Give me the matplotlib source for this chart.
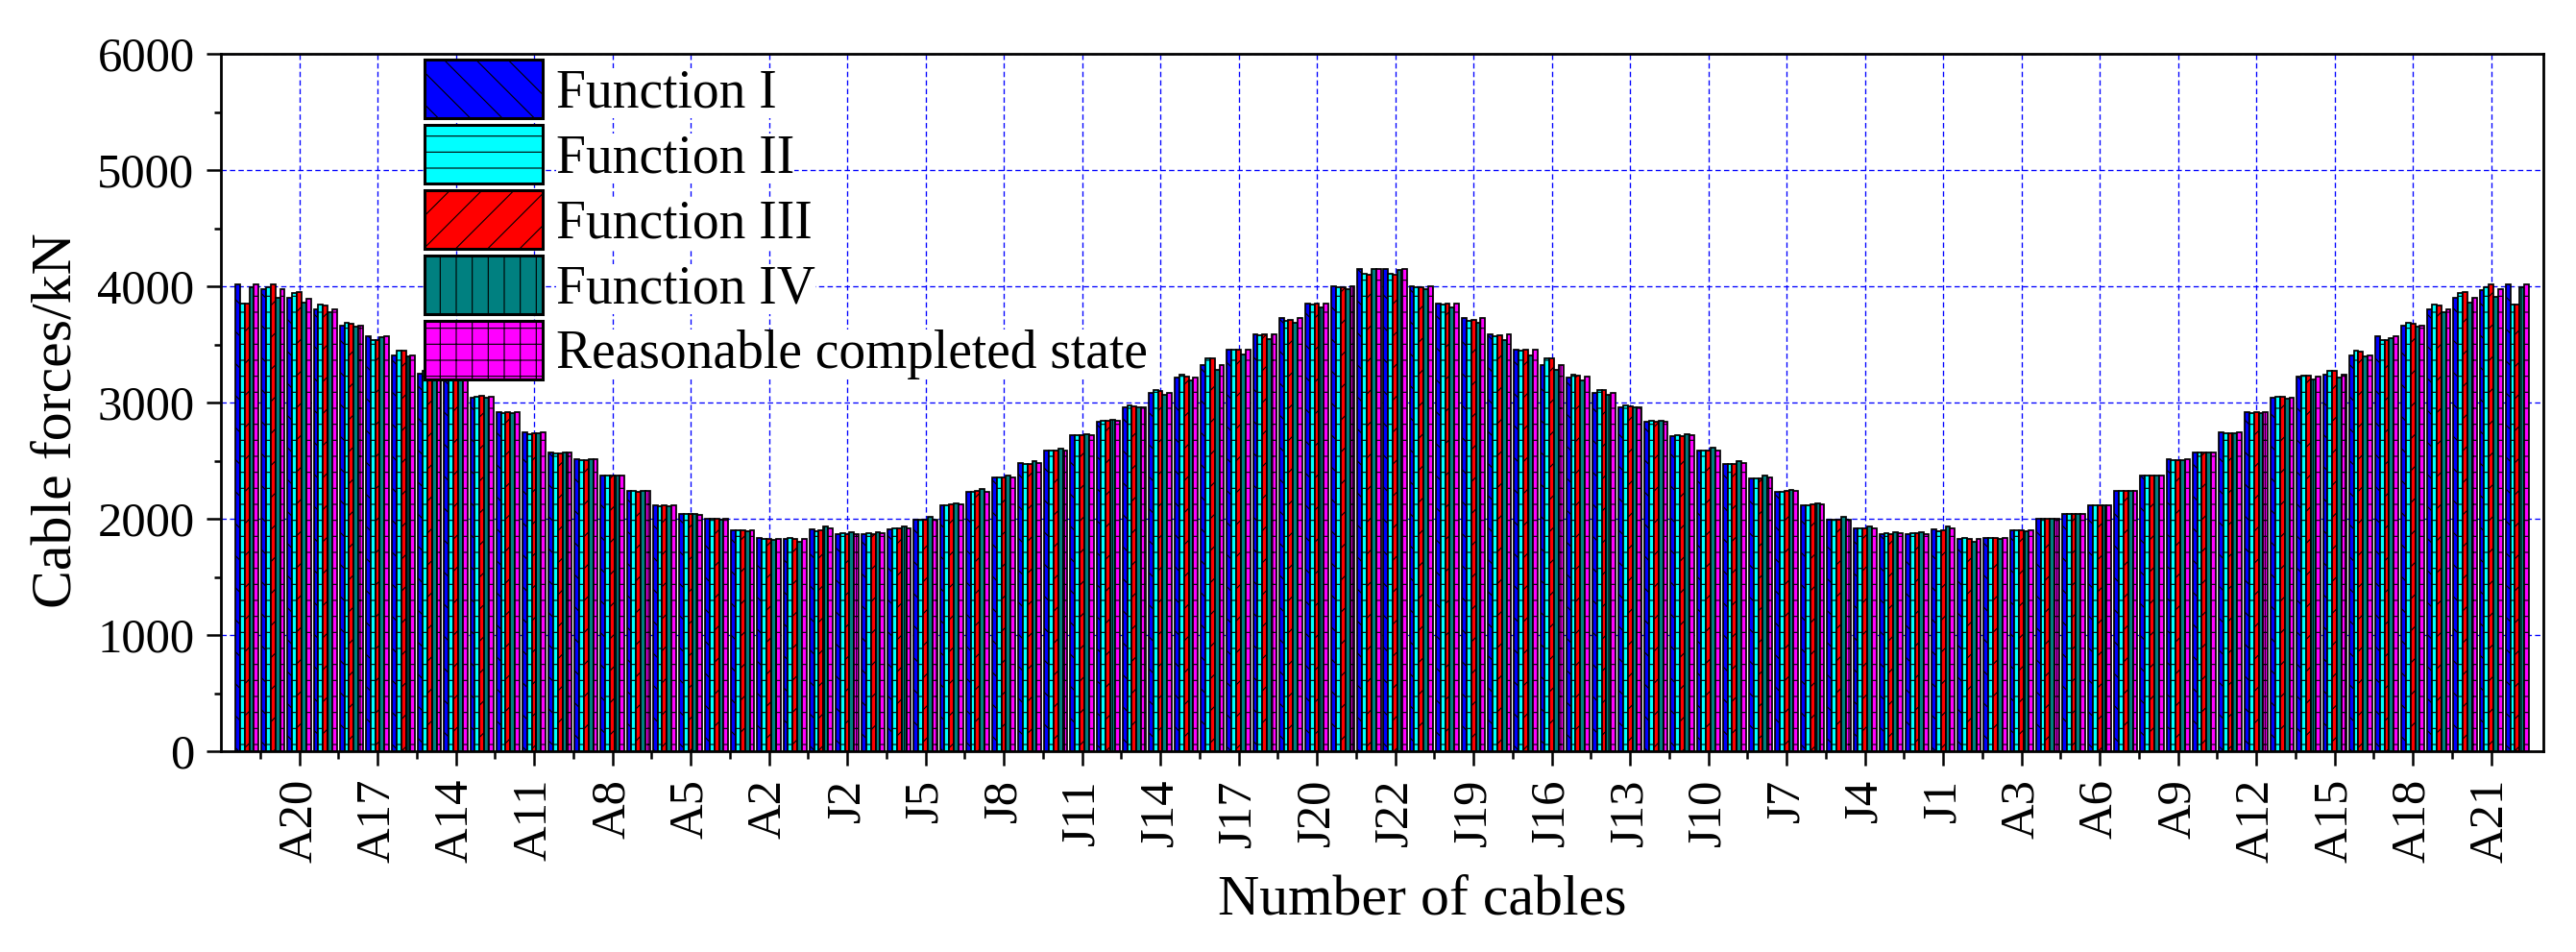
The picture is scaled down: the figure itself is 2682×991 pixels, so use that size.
import numpy as np
import matplotlib
matplotlib.use("Agg")
import matplotlib.pyplot as plt
from matplotlib.ticker import MultipleLocator, FixedLocator

plt.rcParams['font.family'] = ['Liberation Serif', 'DejaVu Serif']
plt.rcParams['hatch.linewidth'] = 0.8
plt.rcParams['lines.scale_dashes'] = False

# cable order along the bridge: A22..A1, J1..J22, J22..J1, A1..A22
cables = ([f"A{i}" for i in range(22, 0, -1)] + [f"J{i}" for i in range(1, 23)]
          + [f"J{i}" for i in range(22, 0, -1)] + [f"A{i}" for i in range(1, 23)])

func1 = [4019, 3972, 3898, 3799, 3661, 3573, 3408, 3248, 3220, 3044, 2917, 2741, 2573, 2512, 2375, 2242,
         2113, 2044, 2003, 1901, 1837, 1824, 1906, 1865, 1870, 1912, 1994, 2113, 2231, 2352, 2476, 2589,
         2719, 2837, 2961, 3085, 3215, 3325, 3455, 3587, 3725, 3854, 4000, 4146, 4152, 4000, 3854, 3725,
         3587, 3455, 3325, 3215, 3085, 2961, 2837, 2713, 2589, 2471, 2347, 2231, 2113, 1994, 1915, 1870,
         1865, 1906, 1824, 1837, 1901, 2003, 2044, 2113, 2242, 2375, 2512, 2573, 2746, 2917, 3044, 3220,
         3242, 3408, 3573, 3661, 3799, 3898, 3970, 4016]
func2 = [3848, 3994, 3945, 3843, 3683, 3540, 3446, 3270, 3234, 3050, 2912, 2724, 2565, 2504, 2370, 2237,
         2110, 2038, 2000, 1903, 1829, 1837, 1892, 1876, 1873, 1920, 1994, 2118, 2231, 2352, 2471, 2589,
         2719, 2843, 2972, 3105, 3242, 3380, 3457, 3579, 3705, 3843, 3994, 4110, 4110, 3994, 3843, 3705,
         3573, 3449, 3380, 3242, 3105, 2972, 2843, 2719, 2589, 2471, 2347, 2231, 2118, 1994, 1920, 1876,
         1873, 1892, 1837, 1832, 1903, 2000, 2041, 2113, 2237, 2370, 2504, 2573, 2732, 2912, 3050, 3234,
         3270, 3449, 3540, 3683, 3843, 3945, 3994, 3842]
func3 = [3848, 4019, 3953, 3835, 3675, 3540, 3446, 3270, 3234, 3055, 2920, 2732, 2565, 2504, 2370, 2231,
         2113, 2044, 2000, 1903, 1829, 1829, 1901, 1870, 1870, 1920, 1994, 2121, 2237, 2352, 2471, 2589,
         2719, 2843, 2967, 3099, 3223, 3380, 3455, 3587, 3711, 3848, 3994, 4096, 4096, 3994, 3848, 3711,
         3581, 3455, 3380, 3234, 3105, 2967, 2837, 2713, 2589, 2471, 2347, 2237, 2121, 1994, 1920, 1870,
         1873, 1901, 1829, 1832, 1903, 2000, 2044, 2113, 2237, 2370, 2504, 2573, 2738, 2917, 3050, 3234,
         3270, 3441, 3540, 3675, 3835, 3953, 4016, 3842]
func4 = [3994, 3904, 3862, 3774, 3650, 3565, 3400, 3215, 3201, 3041, 2912, 2738, 2573, 2509, 2370, 2237,
         2110, 2041, 1994, 1892, 1821, 1804, 1931, 1881, 1884, 1931, 2014, 2135, 2256, 2375, 2493, 2603,
         2724, 2848, 2961, 3069, 3193, 3284, 3413, 3545, 3683, 3821, 3972, 4146, 4143, 3972, 3821, 3683,
         3540, 3408, 3284, 3187, 3069, 2961, 2843, 2724, 2609, 2493, 2375, 2251, 2135, 2014, 1931, 1884,
         1881, 1931, 1804, 1829, 1892, 1997, 2041, 2113, 2237, 2370, 2507, 2573, 2738, 2912, 3036, 3201,
         3215, 3394, 3551, 3650, 3774, 3862, 3905, 3991]
completed = [4019, 3972, 3895, 3799, 3664, 3573, 3408, 3242, 3220, 3047, 2920, 2741, 2573, 2512, 2375, 2242,
             2113, 2036, 2003, 1903, 1829, 1824, 1915, 1870, 1873, 1918, 1994, 2121, 2231, 2352, 2476, 2589,
             2719, 2843, 2961, 3085, 3215, 3325, 3455, 3587, 3725, 3854, 4000, 4152, 4152, 4000, 3854, 3725,
             3587, 3455, 3325, 3220, 3085, 2961, 2837, 2719, 2589, 2476, 2352, 2237, 2121, 1994, 1915, 1873,
             1870, 1915, 1824, 1837, 1903, 2003, 2044, 2113, 2242, 2375, 2512, 2573, 2746, 2920, 3044, 3220,
             3242, 3408, 3573, 3664, 3799, 3898, 3975, 4016]

series = [func1, func2, func3, func4, completed]
names = ["Function I", "Function II", "Function III", "Function IV", "Reasonable completed state"]
colors = ["#0000FF", "#00FFFF", "#FF0000", "#008080", "#FF00FF"]
hatches = ["\\", "-", "/", "|", "+"]

W, H = 2682, 991
fig = plt.figure(figsize=(W / 100, H / 100), dpi=100)
ax = fig.add_axes([230 / W, (H - 782) / H, (2648 - 230) / W, (782 - 56) / H])

x = np.arange(len(cables))
bw = 0.178
for i, (vals, nm, c, h) in enumerate(zip(series, names, colors, hatches)):
    ax.bar(x + (i - 2) * bw, vals, width=bw, color=c, edgecolor="black",
           linewidth=1.25, hatch=h, label=nm, zorder=2)

ax.set_xlim(-1, len(cables))
ax.set_ylim(0, 6000)

major = x[2::3]
ax.xaxis.set_major_locator(FixedLocator(major))
ax.xaxis.set_minor_locator(FixedLocator(x[:-1][::3] + 0.5))
ax.set_xticklabels([cables[k] for k in major], rotation=90, fontsize=36.5)
ax.yaxis.set_major_locator(MultipleLocator(1000))
ax.yaxis.set_minor_locator(MultipleLocator(500))
for t in ax.get_yticklabels():
    t.set_fontsize(36.5)

ax.tick_params(axis="both", which="major", direction="out", length=10.8, width=1.8)
ax.tick_params(axis="both", which="minor", direction="out", length=5.4, width=1.8)
ax.tick_params(axis="x", which="major", pad=10)
ax.tick_params(axis="y", which="major", pad=9)
for s in ax.spines.values():
    s.set_linewidth(2)

ax.set_axisbelow(True)
ax.grid(True, which="major", color="#0000FF", linestyle=(0, (4, 2.4)), linewidth=0.95)

fig.text(1481 / W, 1 - 952 / H, "Number of cables", fontsize=43, ha="center", va="baseline")
fig.text(60 / W, 1 - 438 / H, "Cable forces/kN", fontsize=43, rotation=90, ha="center", va="center")

leg = ax.legend(loc="upper left", bbox_to_anchor=(442 / W, 1 - 62 / H), bbox_transform=fig.transFigure,
                frameon=False, fontsize=40, handlelength=2.21, handleheight=1.31,
                handletextpad=0.25, labelspacing=0.126, borderpad=0, borderaxespad=0)
for p in leg.legend_handles:
    p.set_linewidth(2.2)
for t in leg.get_texts():
    t.set_bbox(dict(facecolor="white", edgecolor="none", pad=0))

fig.savefig("out.png", dpi=100)
